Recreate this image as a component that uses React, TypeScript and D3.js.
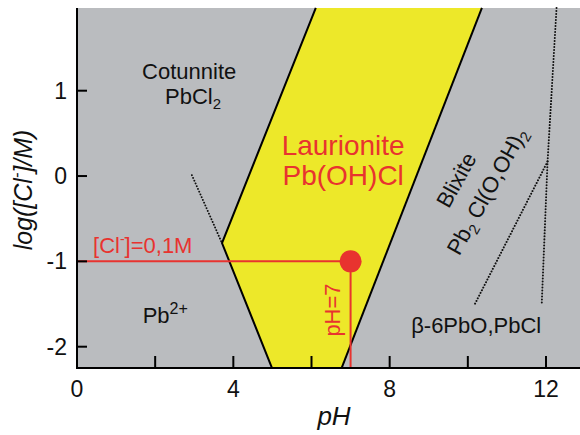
import React from 'react';
import * as d3 from 'd3';

// axis ticks
const xTicks = [0, 2, 4, 6, 8, 10, 12];
const xTickLabels = [0, 4, 8, 12];
const yTicks = [-2, -1, 0, 1];

// Laurionite Pb(OH)Cl stability field, [pH, log Cl]
const laurionite = [[6.11, 1.97], [3.71, -0.785], [4.99, -2.25], [6.77, -2.25], [10.36, 1.97]];
// metastable boundaries (dotted)
const cotunnitePb = [[2.94, 0.01], [3.71, -0.785]];
const blixiteA = [[12.27, 1.97], [12.04, 0.17], [11.89, -1.51]];
const blixiteB = [[12.04, 0.17], [10.18, -1.5]];
// working point
const point = { pH: 7, logCl: -1 };

const W = 580, H = 435;
const font = '"Liberation Sans", Arial, Helvetica, sans-serif';
const gray = '#babcbf';
const yellow = '#ede829';
const red = '#e8332f';

export default function App() {
  const x = d3.scaleLinear().domain([0, 12]).range([77, 546]);
  const y = d3.scaleLinear().domain([-2, 1]).range([346.7, 90.7]);
  const xMin = 0, xMax = x.invert(W), yMin = y.invert(368), yMax = y.invert(8);
  const line = d3.line<number[]>().x(d => x(d[0])).y(d => y(d[1]));

  const dotted = { fill: 'none', stroke: '#111', strokeWidth: 2, strokeDasharray: '0.01 3', strokeLinecap: 'round' as const };

  return (
    <svg width={W} height={H} style={{ position: 'absolute', left: 0, top: 0, fontFamily: font }}>
      <rect x={x(xMin)} y={y(yMax)} width={x(xMax) - x(xMin)} height={y(yMin) - y(yMax)} fill={gray} />
      <path d={line(laurionite as any) + 'Z'} fill={yellow} stroke="none" />
      <path d={line(laurionite.slice(0, 3) as any)!} fill="none" stroke="#000" strokeWidth={2} />
      <path d={line(laurionite.slice(3) as any)!} fill="none" stroke="#000" strokeWidth={2} />
      <path d={line(cotunnitePb as any)!} {...dotted} />
      <path d={line(blixiteA as any)!} {...dotted} />
      <path d={line(blixiteB as any)!} {...dotted} />

      {/* red working point */}
      <line x1={x(xMin)} x2={x(point.pH)} y1={y(point.logCl)} y2={y(point.logCl)} stroke={red} strokeWidth={2} />
      <line x1={x(point.pH)} x2={x(point.pH)} y1={y(point.logCl)} y2={y(yMin)} stroke={red} strokeWidth={2} />
      <circle cx={x(point.pH)} cy={y(point.logCl)} r={11} fill={red} />

      {/* region labels */}
      <g fontSize={22} fill="#111">
        <text x={x(2.87)} y={y(1.137)} textAnchor="middle">Cotunnite</text>
        <text x={x(2.97)} y={y(0.844)} textAnchor="middle">PbCl<tspan fontSize={15} dy={5}>2</tspan></text>
        <text x={x(1.68)} y={y(-1.72)}>Pb<tspan fontSize={16} dy={-9}>2+</tspan></text>
        <text x={x(8.55)} y={y(-1.84)}>β-6PbO,PbCl</text>
        <g transform={`translate(${x(9.72)},${y(-0.05)}) rotate(-61)`}>
          <text textAnchor="middle" dy={7}>Blixite</text>
        </g>
        <g transform={`translate(${x(10.5)},${y(-0.18)}) rotate(-61)`}>
          <text textAnchor="middle" dy={7}>Pb<tspan fontSize={15} dy={5}>2</tspan><tspan dy={-5}> Cl(O,OH)</tspan><tspan fontSize={15} dy={5}>2</tspan></text>
        </g>
      </g>
      <g fill={red}>
        <text x={x(6.81)} y={y(0.246)} textAnchor="middle" fontSize={28}>Laurionite</text>
        <text x={x(6.81)} y={y(-0.105)} textAnchor="middle" fontSize={28}>Pb(OH)Cl</text>
        <text x={x(0.41)} y={y(-0.9)} fontSize={22}>[Cl<tspan fontSize={14} dy={-9}>-</tspan><tspan dy={9}>]=0,1M</tspan></text>
        <g transform={`translate(${x(6.55)},${y(-1.57)}) rotate(-90)`}>
          <text textAnchor="middle" dy={7} fontSize={22}>pH=7</text>
        </g>
      </g>

      {/* axes */}
      <g stroke="#000" strokeWidth={2}>
        <line x1={x(xMin)} x2={x(xMin)} y1={y(yMax)} y2={y(yMin) + 1} />
        <line x1={x(xMin)} x2={x(xMax)} y1={y(yMin)} y2={y(yMin)} />
        {xTicks.filter(t => t > 0).map(t => (
          <line key={'xt' + t} x1={x(t)} x2={x(t)} y1={y(yMin)} y2={y(yMin) - 12} />
        ))}
        {yTicks.map(t => (
          <line key={'yt' + t} x1={x(xMin)} x2={x(xMin) + 10} y1={y(t)} y2={y(t)} />
        ))}
      </g>
      <g fontSize={23} fill="#111">
        {xTickLabels.map(t => (
          <text key={'xl' + t} x={x(t)} y={397} textAnchor="middle">{t}</text>
        ))}
        {yTicks.map(t => (
          <text key={'yl' + t} x={67} y={y(t)} dy={8} textAnchor="end">{t}</text>
        ))}
      </g>
      <text x={334} y={425} textAnchor="middle" fontSize={26} fontStyle="italic" fill="#111">pH</text>
      <g transform={`translate(24,190) rotate(-90)`}>
        <text textAnchor="middle" dy={8} fontSize={25} fontStyle="italic" fill="#111">log([Cl<tspan fontSize={16} dy={-10}>-</tspan><tspan dy={10}>]/M)</tspan></text>
      </g>
    </svg>
  );
}
